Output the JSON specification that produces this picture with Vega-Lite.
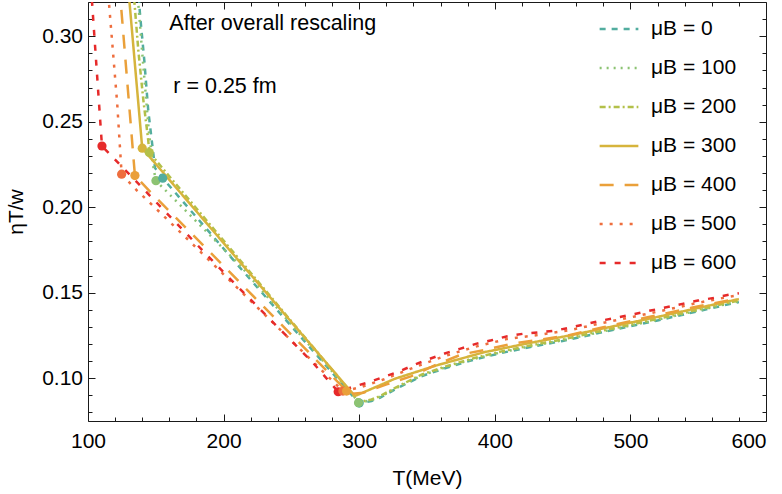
{
  "$schema": "https://vega.github.io/schema/vega-lite/v6.json",
  "width": 678,
  "height": 419,
  "autosize": {"type": "none"},
  "padding": {"left": 88, "top": 2, "right": 16, "bottom": 73},
  "background": "white",
  "config": {
    "view": {"stroke": "#1a1a1a", "strokeWidth": 1},
    "font": "Liberation Sans",
    "axis": {
      "grid": false, "domain": false, "tickColor": "#1a1a1a", "tickWidth": 1,
      "labelColor": "black", "titleColor": "black", "labelFlush": false,
      "labelFont": "Liberation Sans", "labelFontSize": 21,
      "titleFont": "Liberation Sans", "titleFontSize": 21, "titleFontWeight": "normal"
    },
    "legend": {
      "orient": "none", "legendX": 510, "legendY": 6, "title": null,
      "symbolType": "stroke", "symbolSize": 1500, "symbolStrokeWidth": 2.5,
      "labelFont": "Liberation Sans", "labelFontSize": 21, "labelColor": "black",
      "labelOffset": 11, "rowPadding": 8, "padding": 0
    }
  },
  "datasets": {
    "lines": [
      {"series": "μB = 0", "T": 137.0, "eta": 0.33},
      {"series": "μB = 0", "T": 138.3, "eta": 0.3133},
      {"series": "μB = 0", "T": 141.5, "eta": 0.286},
      {"series": "μB = 0", "T": 144.4, "eta": 0.2568},
      {"series": "μB = 0", "T": 146.4, "eta": 0.2432},
      {"series": "μB = 0", "T": 149.4, "eta": 0.223},
      {"series": "μB = 0", "T": 155.1, "eta": 0.217},
      {"series": "μB = 0", "T": 211.3, "eta": 0.1654},
      {"series": "μB = 0", "T": 300.0, "eta": 0.0852},
      {"series": "μB = 0", "T": 309.1, "eta": 0.0867},
      {"series": "μB = 0", "T": 315.2, "eta": 0.0886},
      {"series": "μB = 0", "T": 328.7, "eta": 0.0944},
      {"series": "μB = 0", "T": 345.9, "eta": 0.1012},
      {"series": "μB = 0", "T": 365.0, "eta": 0.1063},
      {"series": "μB = 0", "T": 385.2, "eta": 0.111},
      {"series": "μB = 0", "T": 405.0, "eta": 0.1148},
      {"series": "μB = 0", "T": 427.0, "eta": 0.1184},
      {"series": "μB = 0", "T": 450.0, "eta": 0.1218},
      {"series": "μB = 0", "T": 480.0, "eta": 0.127},
      {"series": "μB = 0", "T": 520.0, "eta": 0.1338},
      {"series": "μB = 0", "T": 550.0, "eta": 0.1392},
      {"series": "μB = 0", "T": 580.0, "eta": 0.1446},

      {"series": "μB = 100", "T": 136.0, "eta": 0.33},
      {"series": "μB = 100", "T": 140.0, "eta": 0.29},
      {"series": "μB = 100", "T": 145.0, "eta": 0.2432},
      {"series": "μB = 100", "T": 148.5, "eta": 0.222},
      {"series": "μB = 100", "T": 150.1, "eta": 0.2155},
      {"series": "μB = 100", "T": 212.8, "eta": 0.1654},
      {"series": "μB = 100", "T": 300.0, "eta": 0.0858},
      {"series": "μB = 100", "T": 309.1, "eta": 0.0871},
      {"series": "μB = 100", "T": 315.2, "eta": 0.089},
      {"series": "μB = 100", "T": 328.7, "eta": 0.0948},
      {"series": "μB = 100", "T": 345.9, "eta": 0.1016},
      {"series": "μB = 100", "T": 365.0, "eta": 0.1067},
      {"series": "μB = 100", "T": 385.2, "eta": 0.1114},
      {"series": "μB = 100", "T": 405.0, "eta": 0.1152},
      {"series": "μB = 100", "T": 427.0, "eta": 0.1188},
      {"series": "μB = 100", "T": 450.0, "eta": 0.1222},
      {"series": "μB = 100", "T": 480.0, "eta": 0.1274},
      {"series": "μB = 100", "T": 520.0, "eta": 0.1342},
      {"series": "μB = 100", "T": 550.0, "eta": 0.1396},
      {"series": "μB = 100", "T": 580.0, "eta": 0.145},

      {"series": "μB = 200", "T": 133.2, "eta": 0.33},
      {"series": "μB = 200", "T": 137.1, "eta": 0.2918},
      {"series": "μB = 200", "T": 140.8, "eta": 0.2627},
      {"series": "μB = 200", "T": 144.4, "eta": 0.2393},
      {"series": "μB = 200", "T": 145.2, "eta": 0.232},
      {"series": "μB = 200", "T": 223.0, "eta": 0.1588},
      {"series": "μB = 200", "T": 300.0, "eta": 0.086},
      {"series": "μB = 200", "T": 309.1, "eta": 0.0876},
      {"series": "μB = 200", "T": 315.2, "eta": 0.0895},
      {"series": "μB = 200", "T": 328.7, "eta": 0.0953},
      {"series": "μB = 200", "T": 345.9, "eta": 0.1021},
      {"series": "μB = 200", "T": 365.0, "eta": 0.1072},
      {"series": "μB = 200", "T": 385.2, "eta": 0.1119},
      {"series": "μB = 200", "T": 405.0, "eta": 0.1157},
      {"series": "μB = 200", "T": 427.0, "eta": 0.1193},
      {"series": "μB = 200", "T": 450.0, "eta": 0.1227},
      {"series": "μB = 200", "T": 480.0, "eta": 0.1279},
      {"series": "μB = 200", "T": 520.0, "eta": 0.1347},
      {"series": "μB = 200", "T": 550.0, "eta": 0.1401},
      {"series": "μB = 200", "T": 580.0, "eta": 0.1455},

      {"series": "μB = 300", "T": 129.5, "eta": 0.33},
      {"series": "μB = 300", "T": 140.0, "eta": 0.2345},
      {"series": "μB = 300", "T": 296.8, "eta": 0.0896},
      {"series": "μB = 300", "T": 310.0, "eta": 0.0941},
      {"series": "μB = 300", "T": 326.3, "eta": 0.0997},
      {"series": "μB = 300", "T": 357.0, "eta": 0.1075},
      {"series": "μB = 300", "T": 392.6, "eta": 0.1153},
      {"series": "μB = 300", "T": 425.0, "eta": 0.1205},
      {"series": "μB = 300", "T": 459.0, "eta": 0.1256},
      {"series": "μB = 300", "T": 516.7, "eta": 0.1353},
      {"series": "μB = 300", "T": 580.0, "eta": 0.1463},

      {"series": "μB = 400", "T": 123.1, "eta": 0.33},
      {"series": "μB = 400", "T": 134.6, "eta": 0.2185},
      {"series": "μB = 400", "T": 146.9, "eta": 0.2082},
      {"series": "μB = 400", "T": 202.7, "eta": 0.1635},
      {"series": "μB = 400", "T": 293.0, "eta": 0.0908},
      {"series": "μB = 400", "T": 303.0, "eta": 0.0915},
      {"series": "μB = 400", "T": 320.2, "eta": 0.0964},
      {"series": "μB = 400", "T": 338.6, "eta": 0.1012},
      {"series": "μB = 400", "T": 357.0, "eta": 0.108},
      {"series": "μB = 400", "T": 375.4, "eta": 0.1139},
      {"series": "μB = 400", "T": 393.9, "eta": 0.1168},
      {"series": "μB = 400", "T": 413.5, "eta": 0.1203},
      {"series": "μB = 400", "T": 434.4, "eta": 0.1227},
      {"series": "μB = 400", "T": 454.0, "eta": 0.125},
      {"series": "μB = 400", "T": 480.0, "eta": 0.1298},
      {"series": "μB = 400", "T": 510.0, "eta": 0.1352},
      {"series": "μB = 400", "T": 545.0, "eta": 0.1412},
      {"series": "μB = 400", "T": 580.0, "eta": 0.1468},

      {"series": "μB = 500", "T": 114.6, "eta": 0.33},
      {"series": "μB = 500", "T": 115.3, "eta": 0.321},
      {"series": "μB = 500", "T": 121.5, "eta": 0.2611},
      {"series": "μB = 500", "T": 124.8, "eta": 0.2193},
      {"series": "μB = 500", "T": 136.3, "eta": 0.2096},
      {"series": "μB = 500", "T": 151.6, "eta": 0.1981},
      {"series": "μB = 500", "T": 176.4, "eta": 0.179},
      {"series": "μB = 500", "T": 288.0, "eta": 0.0925},
      {"series": "μB = 500", "T": 300.0, "eta": 0.0945},
      {"series": "μB = 500", "T": 318.4, "eta": 0.0994},
      {"series": "μB = 500", "T": 341.0, "eta": 0.1065},
      {"series": "μB = 500", "T": 363.1, "eta": 0.113},
      {"series": "μB = 500", "T": 386.0, "eta": 0.1185},
      {"series": "μB = 500", "T": 409.3, "eta": 0.123},
      {"series": "μB = 500", "T": 433.1, "eta": 0.1254},
      {"series": "μB = 500", "T": 456.5, "eta": 0.1283},
      {"series": "μB = 500", "T": 479.8, "eta": 0.1324},
      {"series": "μB = 500", "T": 503.2, "eta": 0.1361},
      {"series": "μB = 500", "T": 526.5, "eta": 0.14},
      {"series": "μB = 500", "T": 549.8, "eta": 0.1441},
      {"series": "μB = 500", "T": 573.2, "eta": 0.1477},
      {"series": "μB = 500", "T": 580.0, "eta": 0.1485},

      {"series": "μB = 600", "T": 102.1, "eta": 0.33},
      {"series": "μB = 600", "T": 110.3, "eta": 0.2358},
      {"series": "μB = 600", "T": 135.9, "eta": 0.2148},
      {"series": "μB = 600", "T": 201.9, "eta": 0.1604},
      {"series": "μB = 600", "T": 266.0, "eta": 0.109},
      {"series": "μB = 600", "T": 284.5, "eta": 0.0921},
      {"series": "μB = 600", "T": 295.5, "eta": 0.095},
      {"series": "μB = 600", "T": 307.3, "eta": 0.0977},
      {"series": "μB = 600", "T": 318.4, "eta": 0.1009},
      {"series": "μB = 600", "T": 330.0, "eta": 0.1041},
      {"series": "μB = 600", "T": 341.0, "eta": 0.108},
      {"series": "μB = 600", "T": 352.1, "eta": 0.1114},
      {"series": "μB = 600", "T": 363.1, "eta": 0.1145},
      {"series": "μB = 600", "T": 374.2, "eta": 0.1172},
      {"series": "μB = 600", "T": 386.0, "eta": 0.1201},
      {"series": "μB = 600", "T": 397.5, "eta": 0.1222},
      {"series": "μB = 600", "T": 409.3, "eta": 0.1246},
      {"series": "μB = 600", "T": 420.8, "eta": 0.126},
      {"series": "μB = 600", "T": 433.1, "eta": 0.1269},
      {"series": "μB = 600", "T": 444.9, "eta": 0.1279},
      {"series": "μB = 600", "T": 456.5, "eta": 0.1298},
      {"series": "μB = 600", "T": 468.0, "eta": 0.1318},
      {"series": "μB = 600", "T": 479.8, "eta": 0.1339},
      {"series": "μB = 600", "T": 491.6, "eta": 0.1357},
      {"series": "μB = 600", "T": 503.2, "eta": 0.1376},
      {"series": "μB = 600", "T": 515.0, "eta": 0.1396},
      {"series": "μB = 600", "T": 526.5, "eta": 0.1415},
      {"series": "μB = 600", "T": 538.3, "eta": 0.1435},
      {"series": "μB = 600", "T": 549.8, "eta": 0.1454},
      {"series": "μB = 600", "T": 561.6, "eta": 0.147},
      {"series": "μB = 600", "T": 573.2, "eta": 0.1489},
      {"series": "μB = 600", "T": 580.0, "eta": 0.1497}
    ],
    "upperDots": [
      {"series": "μB = 600", "T": 110.3, "eta": 0.2358},
      {"series": "μB = 500", "T": 124.8, "eta": 0.2193},
      {"series": "μB = 400", "T": 134.6, "eta": 0.2185},
      {"series": "μB = 300", "T": 140.0, "eta": 0.2345},
      {"series": "μB = 200", "T": 145.2, "eta": 0.232},
      {"series": "μB = 100", "T": 150.1, "eta": 0.2155},
      {"series": "μB = 0", "T": 155.1, "eta": 0.217}
    ],
    "lowerDots": [
      {"series": "μB = 600", "T": 284.5, "eta": 0.0921},
      {"series": "μB = 500", "T": 288.0, "eta": 0.0925},
      {"series": "μB = 400", "T": 290.7, "eta": 0.0925},
      {"series": "μB = 0", "T": 300.0, "eta": 0.0855},
      {"series": "μB = 100", "T": 299.5, "eta": 0.0857}
    ],
    "notes": [
      {"T": 160.0, "eta": 0.3034, "label": "After overall rescaling"},
      {"T": 162.9, "eta": 0.2666, "label": "r = 0.25 fm"}
    ]
  },
  "layer": [
    {
      "data": {"name": "lines"},
      "mark": {"type": "line", "clip": true, "strokeWidth": 2.5},
      "encoding": {
        "x": {"field": "T", "type": "quantitative",
              "scale": {"domain": [100, 600], "nice": false, "zero": false},
              "axis": {"orient": "bottom", "values": [100, 200, 300, 400, 500, 600], "tickSize": -7, "labelPadding": 16, "title": "T(MeV)", "titlePadding": 16, "format": "d",
                       "labelAlign": {"condition": {"test": "datum.value == 600", "value": "right"}, "value": "center"}}},
        "y": {"field": "eta", "type": "quantitative",
              "scale": {"domain": [0.075, 0.32], "nice": false, "zero": false},
              "axis": {"orient": "left", "values": [0.1, 0.15, 0.2, 0.25, 0.3], "tickSize": -7, "labelPadding": 12.5, "format": ".2f", "title": "ηT/w", "titlePadding": 15}},
        "color": {"field": "series", "type": "nominal",
                  "scale": {"domain": ["μB = 0", "μB = 100", "μB = 200", "μB = 300", "μB = 400", "μB = 500", "μB = 600"],
                            "range": ["#52ad9f", "#8cc373", "#b3c049", "#d6b43c", "#eaa03a", "#ee6e3e", "#e62a2a"]}},
        "strokeDash": {"field": "series", "type": "nominal",
                  "scale": {"domain": ["μB = 0", "μB = 100", "μB = 200", "μB = 300", "μB = 400", "μB = 500", "μB = 600"],
                            "range": [[6, 6], [2, 5], [6, 3, 2, 3], [1, 0], [14, 11], [3, 7], [6, 9]]}}
      }
    },
    {
      "data": {"name": "upperDots"},
      "mark": {"type": "point", "filled": true, "opacity": 1, "size": 85},
      "encoding": {
        "x": {"field": "T", "type": "quantitative",
              "axis": {"orient": "bottom", "values": [120, 140, 160, 180, 220, 240, 260, 280, 320, 340, 360, 380, 420, 440, 460, 480, 520, 540, 560, 580], "tickSize": -4, "labels": false, "title": null}},
        "y": {"field": "eta", "type": "quantitative",
              "axis": {"orient": "left", "values": [0.08, 0.09, 0.11, 0.12, 0.13, 0.14, 0.16, 0.17, 0.18, 0.19, 0.21, 0.22, 0.23, 0.24, 0.26, 0.27, 0.28, 0.29, 0.31], "tickSize": -4, "labels": false, "title": null}},
        "color": {"field": "series", "type": "nominal", "legend": null}
      }
    },
    {
      "data": {"name": "lowerDots"},
      "mark": {"type": "point", "filled": true, "opacity": 1, "size": 85},
      "encoding": {
        "x": {"field": "T", "type": "quantitative",
              "axis": {"orient": "top", "values": [100, 200, 300, 400, 500, 600], "tickSize": -7, "labels": false, "title": null}},
        "y": {"field": "eta", "type": "quantitative",
              "axis": {"orient": "right", "values": [0.1, 0.15, 0.2, 0.25, 0.3], "tickSize": -7, "labels": false, "title": null}},
        "color": {"field": "series", "type": "nominal", "legend": null}
      }
    },
    {
      "data": {"name": "notes"},
      "mark": {"type": "text", "align": "left", "baseline": "alphabetic", "fontSize": 21.5, "font": "Liberation Sans", "color": "black"},
      "encoding": {
        "x": {"field": "T", "type": "quantitative",
              "axis": {"orient": "top", "values": [120, 140, 160, 180, 220, 240, 260, 280, 320, 340, 360, 380, 420, 440, 460, 480, 520, 540, 560, 580], "tickSize": -4, "labels": false, "title": null}},
        "y": {"field": "eta", "type": "quantitative",
              "axis": {"orient": "right", "values": [0.08, 0.09, 0.11, 0.12, 0.13, 0.14, 0.16, 0.17, 0.18, 0.19, 0.21, 0.22, 0.23, 0.24, 0.26, 0.27, 0.28, 0.29, 0.31], "tickSize": -4, "labels": false, "title": null}},
        "text": {"field": "label"}
      }
    }
  ],
  "resolve": {"axis": {"x": "independent", "y": "independent"}, "legend": {"color": "independent", "strokeDash": "independent"}}
}
